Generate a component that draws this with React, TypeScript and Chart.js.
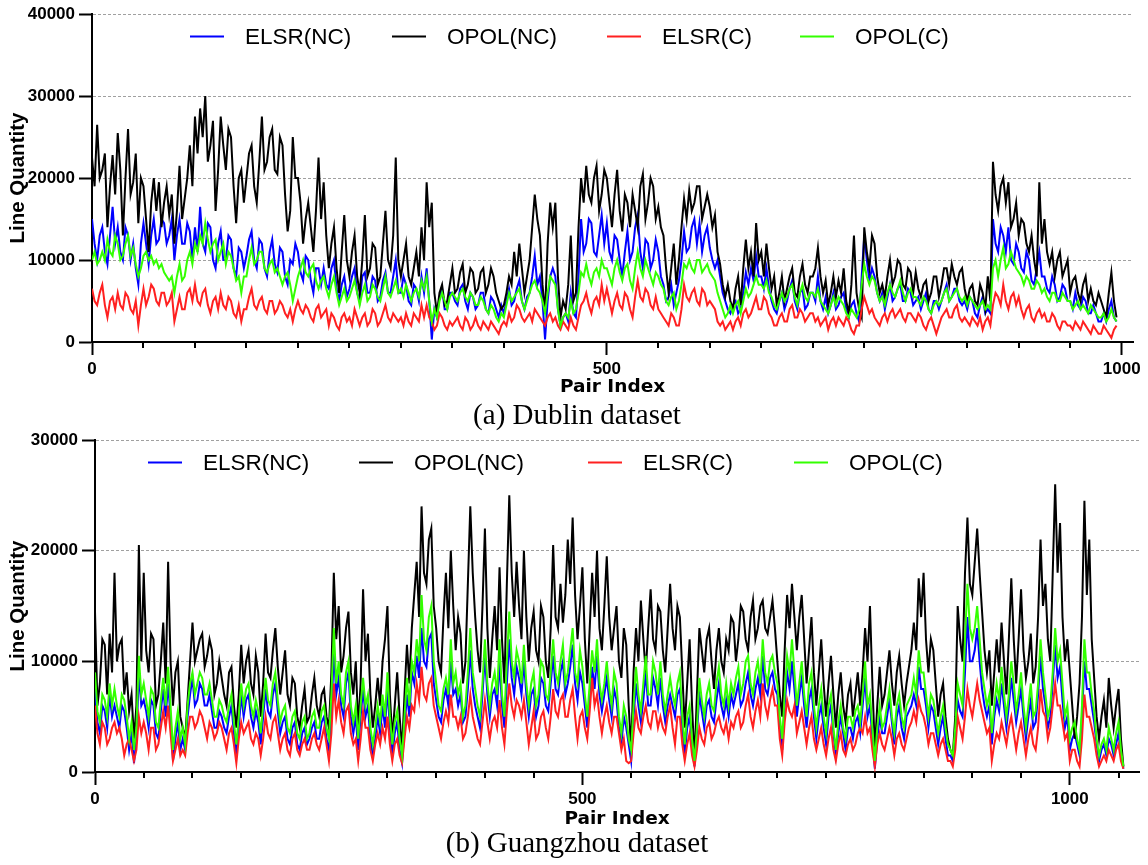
import React, { useEffect, useRef } from 'react';
import { Chart, registerables } from 'chart.js';

Chart.register(...registerables);

// ---------------- data ----------------
const STEP = 2.5; // pair-index spacing of the sampled points
const SERIES_LABELS = ['ELSR(NC)', 'OPOL(NC)', 'ELSR(C)', 'OPOL(C)'];
const SERIES_COLORS = ['#0000ff', '#000000', '#ff2020', '#33ff00'];
const X_TICKS = [0, 500, 1000];
const DUBLIN_Y_TICKS = [0, 10000, 20000, 30000, 40000];
const GZ_Y_TICKS = [0, 10000, 20000, 30000];
const DUBLIN_MINOR_TICKS = [50, 100, 150, 200, 250, 300, 350, 400, 450, 550, 600, 650, 700, 750, 800, 850, 900, 950];
const GZ_MINOR_TICKS = [50, 100, 150, 200, 250, 300, 350, 400, 450, 550, 600, 650, 700, 750, 800, 850, 900, 950, 1050];

// Dublin dataset (thousands of lines), pair index 0..995
const DUBLIN_ELSR_NC = [
  15, 12, 10, 13, 14, 11, 9.5, 13, 16.5, 12, 14, 11, 10, 14, 13, 10, 12, 9, 7, 12,
  14.5, 12, 9.5, 13, 15, 12, 12.5, 15, 14.5, 12, 13, 15, 10, 13, 15, 12, 12, 14.5, 13.5, 10,
  14, 11, 16.5, 12, 11, 14.5, 14, 10, 9, 12, 13.5, 10, 10, 13, 12.5, 9, 8, 11.5, 11, 9,
  10.5, 12.5, 13.5, 10, 9, 12.5, 12, 9, 8, 11, 12.5, 9.5, 8.5, 11.5, 11, 8, 7, 10, 9.5, 12,
  11, 8.5, 7.5, 10.5, 10, 7.5, 6, 9, 9, 7, 9, 7, 6.5, 9, 10, 6.5, 5, 7, 8, 5.5,
  6.5, 8, 9, 6, 5, 8, 8.5, 6, 6, 8, 7.5, 5, 5.5, 7.5, 8.5, 6, 6, 8, 10, 6,
  6, 8, 7, 5, 4.5, 7, 6.5, 5, 8, 6, 9, 5, 0.3, 4, 3, 5.5, 6.5, 4, 4, 6,
  6, 5, 4.5, 6.5, 7, 5, 4, 6, 5.5, 4, 4.5, 6, 6, 4, 3.5, 5.5, 5, 4, 3, 4.5,
  3.5, 5, 6.5, 4.5, 5, 6.5, 7.5, 5, 4, 5.5, 6, 8, 10.5, 7, 8, 5, 0.3, 5, 8, 9,
  8, 4, 2, 3, 3.5, 2.5, 6, 3.5, 3, 8, 15, 11, 12, 15, 14.5, 11, 10.5, 13, 15.5, 12,
  14.5, 11, 10, 13, 12.5, 10, 8, 11, 13.5, 10, 11, 14, 15.5, 11, 9, 12.5, 12, 9, 10, 12.5,
  11, 8, 7, 5, 5.5, 7, 4.5, 6, 7.5, 10, 13.5, 11, 11.5, 14, 15, 12, 14.5, 11, 13, 14,
  11.5, 10, 9, 10, 8, 6, 5, 4, 3.5, 4.5, 5, 3.5, 4, 6, 8.5, 7, 9, 7.5, 10.5, 8,
  8, 6.5, 9, 6.5, 5, 4, 3.5, 5, 6, 4, 5, 6.5, 7.5, 5, 4, 6, 6.5, 4, 4.5, 6,
  6, 5, 8, 5, 4, 5.5, 3.5, 4.5, 6, 4, 4.5, 5.5, 6, 4, 3, 4.5, 5, 3.5, 2.5, 8,
  13, 10, 7.5, 9, 8, 6, 5, 6, 4, 5.5, 7, 5, 5.5, 6.5, 7, 5, 5, 6.5, 6, 4.5,
  5, 5.5, 4, 5, 6, 4, 3.5, 5, 5, 4, 5, 6, 7, 5, 5.5, 6.5, 6.5, 5, 4.5, 5,
  4, 5.5, 5, 3.5, 3, 4.5, 5.5, 3.5, 4, 3.5, 15, 12, 11, 14, 13, 11, 14, 10, 9.5, 12,
  11, 9, 8.5, 11, 10, 7.5, 7, 9, 11, 8, 8, 6.5, 6, 8, 7, 5, 5.5, 7, 6.5, 5,
  5, 4, 6, 4.5, 4, 5.5, 5, 3.5, 3.5, 4.5, 3.5, 2.5, 2.5, 3.5, 2.5, 4, 5, 3, 2.5,
];
const DUBLIN_OPOL_NC = [
  22.5, 19, 26.5, 20, 21, 23, 14, 19, 22.8, 18, 25.5, 21, 13, 20, 26, 18, 19.5, 23, 14.5, 20,
  19, 15, 11, 17, 20, 16, 19.5, 14, 17, 19, 15.5, 18, 12, 16, 21.5, 15, 17.5, 20, 24, 19,
  27.5, 23, 28.5, 25, 30, 22, 24, 27, 16, 21, 27.5, 24, 21, 26, 25, 19, 14.5, 20, 21, 17,
  20, 23, 24, 19, 17, 22, 27.5, 21, 22, 25, 26, 21, 20.5, 25, 24, 18, 13.5, 16, 25, 20,
  20, 17, 12, 15, 17, 14, 11, 16, 22.5, 15, 19.5, 13, 9, 12, 14, 9, 6, 11, 15.5, 10,
  8, 11, 13, 8, 6, 10, 15.5, 8, 9, 12, 11.5, 7, 8, 12, 16, 10, 9, 13, 22.5, 10,
  8, 10, 12, 8, 7, 9, 11, 8, 14, 10, 19.5, 14, 17, 6, 3.5, 6, 7, 4.5, 5, 7,
  9, 6, 6.5, 8.5, 9.5, 6, 7, 9, 8.5, 6, 6.5, 8.5, 9, 6, 7, 9, 8, 6, 5, 4,
  4.5, 6, 8, 7, 11, 8, 12, 9, 6, 8, 10, 14, 18, 15, 13, 7, 3.5, 12, 17, 14,
  17, 8, 3, 5, 4, 7, 13, 5, 6, 14, 20, 17, 21.5, 18, 17, 20, 21.5, 16, 18, 21,
  20, 17, 14, 18, 21, 16, 13.5, 18, 17, 14, 18, 16, 14, 19, 20.5, 15, 17, 20, 19, 15,
  16.5, 14, 13, 9, 6, 9, 12, 7, 10, 14, 17.5, 15, 18.5, 16, 17, 19, 19, 15, 16.5, 18,
  16.5, 14, 15.5, 11, 9.5, 7, 5.5, 7, 5, 4, 6.5, 8, 4.5, 9, 12.5, 9, 11, 8, 14.5, 10,
  11, 8, 12, 9, 6.5, 8, 4.5, 6, 8, 5, 6.5, 8, 9, 6, 5.5, 8, 9.5, 7, 6, 8,
  8, 9, 11.5, 8, 6, 7.5, 4.5, 6, 8, 5.5, 7.5, 6, 9, 5, 3.5, 7, 13, 6, 4, 3,
  14, 11, 9, 13, 12, 8, 6, 7, 5.5, 8, 10, 7, 8, 10, 9.5, 7, 6.5, 9, 8.5, 6,
  8.5, 6.5, 5.5, 7, 7.5, 5, 6, 8, 8, 5.5, 7, 9, 9, 7, 9.5, 8, 7, 8.5, 9, 6.5,
  5, 6.5, 7, 5, 4.5, 7, 6, 4, 8, 5, 22, 18, 16, 19, 20, 17, 19.5, 14, 15, 17,
  13, 15, 14.5, 12, 11, 13, 10, 8, 19.5, 12, 15, 11, 9.5, 11, 8, 10, 11, 8, 9, 10,
  6, 7.5, 8, 6, 5, 7, 8, 5, 6.5, 5, 4.5, 6, 5, 4, 3, 6, 8.5, 5, 3,
];
const DUBLIN_ELSR_C = [
  6.5, 5, 4.5, 6, 7, 4.5, 3, 5, 5.5, 4, 6, 4.5, 4, 6, 5.5, 4, 3.5, 5, 2, 4.5,
  6.5, 4.5, 5.5, 7, 6.5, 5, 4.5, 6, 6, 4.5, 5, 6, 2.5, 4, 5.5, 4, 4, 6, 6.5, 5,
  7, 5, 4.5, 6, 6.5, 4.5, 3.5, 5, 5.5, 4, 6, 4.5, 4, 5.5, 5, 3.5, 3, 4.5, 2.5, 4,
  4, 5.5, 6.5, 4.5, 4, 5, 5.5, 4, 3.5, 5, 5, 3.5, 4, 5, 4.5, 3.5, 3, 4, 2.5, 4,
  5, 4, 3.5, 4.5, 4, 3, 2.5, 4, 4.5, 3, 3.5, 4, 2, 3.5, 3, 2, 1.5, 3, 3.5, 2.5,
  3, 2, 4, 3, 2, 3, 3.5, 2, 2.5, 4, 3.5, 2, 2.5, 3.5, 4.5, 3, 2.5, 3.5, 3, 2.5,
  3, 2, 3.5, 2.5, 2, 3.5, 3, 2.5, 4.5, 3, 4.5, 3, 2.5, 1.5, 2, 3.5, 3, 2, 1.5, 2.5,
  2, 2.5, 3, 2, 1.5, 3, 2.5, 1.5, 2, 3, 2, 1.5, 2.5, 2, 1.5, 2.5, 2, 1.5, 1, 2,
  2.5, 2, 3.5, 2.5, 3, 4.5, 4, 3, 2.5, 3, 3.5, 2.5, 4, 3.5, 3, 2.5, 2, 3, 3.5, 2.5,
  3, 2, 1.5, 2.5, 2, 1.5, 3, 2, 1.5, 3, 4.5, 5, 6, 4.5, 3.5, 5, 5.5, 4.5, 7, 5,
  6.5, 5, 3.5, 5, 6, 4.5, 4, 6, 5.5, 4, 3, 5.5, 7.5, 5.5, 5, 6.5, 6, 4.5, 4, 5.5,
  4, 3.5, 3, 2.5, 2, 3.5, 3, 2, 2, 4, 7, 5.5, 5, 6, 6.5, 5, 4.5, 6.5, 6, 4.5,
  5, 4.5, 4, 2.5, 2, 2.5, 1.5, 2, 2.5, 1.5, 2.5, 3, 2, 3.5, 4, 3, 3.5, 4.5, 5.5, 4,
  4, 5.5, 5, 3.5, 3, 2, 2, 3, 3.5, 2.5, 2.5, 4, 4.5, 3, 3, 4, 3.5, 2.5, 3, 3.5,
  3.5, 2.5, 3, 2, 2.5, 3, 1.5, 2.5, 3, 2, 3, 2.5, 2, 3, 2.5, 1.5, 1, 2, 2, 4,
  5.5, 4.5, 3.5, 4, 3, 2.5, 2, 3, 3.5, 2.5, 3.5, 4, 3, 3.5, 4, 3, 2.5, 3.5, 3.5, 3,
  2.5, 3.5, 3, 2, 1.5, 2.5, 3, 2, 1, 2, 3, 3.5, 4, 3, 3, 4, 4.5, 3, 2.5, 3,
  2.5, 2, 3, 2.5, 2, 3, 1.5, 2.5, 3, 2, 4.5, 6, 5.5, 4.5, 7, 5, 4, 5.5, 6, 4.5,
  5.5, 4, 3, 4, 4.5, 3, 2.5, 3.5, 4, 3, 3.5, 2.5, 2.5, 3.5, 3, 2, 1.5, 2.5, 2.5, 2,
  2, 1.5, 2.5, 2, 1.5, 2.5, 2, 1.5, 1, 2, 1.5, 1, 1, 2, 1.5, 1, 0.5, 1.5, 2,
];
const DUBLIN_OPOL_C = [
  10, 11, 9.5, 10, 11, 10, 12.5, 11, 10.5, 13, 12, 10, 10.5, 12, 13, 10.5, 11.5, 9.5, 8, 9,
  10.5, 11, 10, 10.5, 9.5, 10, 9, 9.5, 8.5, 8, 7.5, 8, 6, 8, 9.5, 7.5, 8, 10, 11, 9.5,
  12, 11, 13, 12, 14.5, 12.5, 11, 12, 12.5, 10, 11, 12, 9.5, 11, 10.5, 9, 7.5, 8, 6, 8,
  8, 10, 11.5, 9.5, 10, 11, 11, 9, 8.5, 9.5, 10, 8.5, 9, 8, 7, 8, 8.5, 7, 5, 6.5,
  8, 9, 10, 8.5, 8, 9, 9.5, 7.5, 6.5, 7.5, 8, 6.5, 5.5, 7, 8, 6, 4.5, 5.5, 6.5, 5,
  5.5, 6.5, 7.5, 6, 4.5, 6, 7, 5, 5.5, 7, 6.5, 5.5, 5, 6.5, 8, 6, 5.5, 6.5, 7.5, 6,
  6.5, 5.5, 7, 6, 5, 6, 6.5, 5.5, 7.5, 6.5, 8, 5, 2.5, 4, 3, 5, 6, 5, 4, 5.5,
  6, 5.5, 5, 6, 6.5, 5.5, 5, 6, 5.5, 4.5, 4.5, 5.5, 5, 4, 3.5, 4.5, 4, 3, 2.5, 3.5,
  3, 4.5, 6, 5, 5.5, 6, 6.5, 5, 4, 5, 6, 7, 7.5, 6.5, 6, 5, 3.5, 6, 8, 7.5,
  7, 4, 2, 3, 3.5, 3, 5, 3.5, 4, 6, 8.5, 8, 9.5, 8, 7, 8.5, 9, 8, 10, 9,
  9, 8, 7, 9, 10, 8.5, 7.5, 9, 9.5, 7.5, 6.5, 9, 11, 9, 8, 10, 9, 8, 7, 8.5,
  8, 7, 6.5, 5, 4.5, 5.5, 6, 4, 5, 7, 9.5, 9, 10, 9, 8.5, 10, 10, 8.5, 9, 9.5,
  8.5, 8, 7.5, 6, 5, 4, 3, 3.5, 4.5, 3.5, 4.5, 5, 3.5, 5, 6.5, 5.5, 6, 7, 8, 7,
  7, 6.5, 7.5, 6, 5.5, 4.5, 4, 5, 6, 5, 5.5, 6.5, 7, 5.5, 4.5, 6, 7, 5.5, 5, 6,
  6, 5.5, 6.5, 5, 4.5, 4, 3.5, 4.5, 5.5, 4.5, 5.5, 5, 4.5, 3.5, 3, 4, 3.5, 3, 4, 7,
  9.5, 8, 7, 8, 7.5, 6, 5, 5.5, 4.5, 6, 7, 6, 5.5, 6.5, 7.5, 6, 5, 6, 6.5, 5.5,
  5.5, 5, 4.5, 5.5, 5, 4, 3.5, 4.5, 5, 4.5, 5, 6, 6.5, 5, 5.5, 6, 6.5, 5.5, 5, 5.5,
  4.5, 5.5, 5, 4.5, 4, 4.5, 5, 4, 4.5, 4, 9, 10, 8, 10, 11.5, 9, 9.5, 11, 10, 9,
  8.5, 8, 7, 8, 7.5, 6.5, 6.5, 7.5, 7, 6, 6.5, 5.5, 5, 6, 6, 5, 5, 6, 5.5, 5,
  5, 4, 4.5, 5, 4, 4.5, 4, 3.5, 4.5, 4, 3.5, 3, 3, 3.5, 2.5, 3, 4, 3, 2.5,
];

// Guangzhou dataset (thousands of lines), pair index 0..1055
const GZ_ELSR_NC = [
  7.5, 4.5, 3.5, 6, 5.5, 4, 7, 5, 6, 5, 4, 6, 5.5, 4, 2, 3.5, 0.8, 3, 9, 6,
  6.5, 5.5, 4, 6.5, 6, 3.5, 3, 5.5, 7.5, 5, 8, 5, 1, 3, 4.5, 2, 3, 2, 5, 7,
  8.5, 6, 6.5, 8, 7.5, 6, 6, 7, 5.5, 4, 4, 5.5, 5, 4, 3.5, 5, 6, 3.5, 1.5, 4,
  7, 5, 6.5, 7, 5, 4, 5.5, 4.5, 2.5, 5, 7.5, 5.5, 5, 7, 8, 5.5, 3.5, 4.5, 5, 3,
  2.5, 4, 4.5, 2.5, 2, 3.5, 4, 2.5, 3, 4, 4.5, 3, 3, 4.5, 5, 3, 2, 5, 11, 7,
  8.5, 6, 5, 8, 9, 5, 3.5, 5, 2, 5, 7.5, 5, 6, 3, 1.5, 3, 5, 3.5, 6, 4,
  7.5, 4, 1.5, 3.5, 4.5, 2, 0.8, 4, 7, 5, 9, 8, 10.5, 8.5, 13, 10, 9.5, 12, 12.5, 8,
  6.5, 5, 4.5, 6.5, 7.5, 6, 10, 7, 7.5, 6, 7, 4.5, 5, 7.5, 11, 7.5, 6, 5, 4, 7,
  10.5, 7, 5, 7, 7.5, 6, 10, 6, 4, 8, 12, 8.5, 7, 9.5, 8.5, 7, 10, 7, 5, 7,
  7.5, 5, 6, 8.5, 8, 6, 5.5, 8, 10.5, 7.5, 7, 9, 10, 7, 8, 9.5, 11.5, 8, 6.5, 9,
  8, 6, 4, 6.5, 9.5, 7.5, 10.5, 7, 5.5, 7, 8.5, 6.5, 5, 7.5, 6.5, 4, 2.5, 5, 4, 2.5,
  1, 5, 8, 6, 4.5, 6.5, 9, 6, 6, 8.5, 7.5, 6, 8.5, 6, 4.5, 6, 7, 6, 5, 7,
  7.5, 4, 1.5, 4, 5, 2.5, 0.5, 3.5, 7, 5.5, 4, 6, 6.5, 5, 4.5, 6.5, 8, 6, 5, 6.5,
  5, 7, 6, 7, 8, 6, 6.5, 8, 9, 7, 6, 7.5, 8.5, 7, 10.5, 7.5, 7, 8.5, 9, 7.5,
  7, 4, 2, 6, 9, 7.5, 10, 7.5, 5, 7, 8.5, 6, 4, 6.5, 7.5, 5, 3, 5, 6, 4,
  2.5, 5, 6, 3.5, 1.5, 3.5, 5, 3.5, 2, 4, 4, 3, 4.5, 5, 3.5, 6, 8.5, 5, 6, 3,
  0.3, 3, 5, 3.5, 3.5, 5, 6.5, 4.5, 2.5, 5, 6, 4, 3, 5, 5.5, 6, 7, 6, 9.5, 7.5,
  7.5, 6, 4, 6, 5.5, 4, 2.5, 4, 5, 3, 1.5, 1.5, 1, 3, 6.5, 5.5, 5, 9, 14, 10,
  10, 11, 13, 10, 7.5, 6, 5, 6, 2.5, 5, 6.5, 5.5, 8, 6, 4, 6, 8.5, 6.5, 4.5, 6,
  7.5, 5, 3, 5, 6.5, 4, 4.5, 7, 10.5, 7.5, 6, 4, 5, 8, 11.5, 8.5, 9.5, 6.5, 4, 5,
  2, 3, 3.5, 2.5, 1.5, 5, 10, 7.5, 7.5, 6, 4.5, 2.5, 1, 2, 2.5, 1.5, 3, 2.5, 1.5, 2.5,
  3.5, 1.5, 0.3,
];
const GZ_OPOL_NC = [
  14.5, 6, 8, 12, 11.5, 7, 12.5, 9, 18, 10, 11.5, 12, 7, 9, 5.5, 7, 3, 6, 20.5, 10,
  18, 11, 9, 12.5, 12, 6, 7, 10, 13.5, 8, 19, 10, 6, 9, 10, 5, 4, 3, 6.5, 10,
  13.5, 10, 11, 12, 12.5, 9.5, 10.5, 12, 11, 7, 8, 10, 8.5, 7, 6, 9, 9.5, 6, 4, 7,
  11.5, 8, 10, 11, 8, 7, 10.5, 9, 5, 8, 12.5, 9, 8.5, 11, 13, 9.5, 7, 9, 11, 7,
  6, 8.5, 8, 5, 4, 6, 7.5, 4.5, 5, 7, 8.5, 6, 5, 7, 7.5, 5, 4, 9, 18, 12,
  15, 9, 10.5, 13, 14.5, 9, 7, 10, 4, 8, 16.5, 10, 12.5, 7, 4, 6, 8.5, 6, 10, 12,
  15, 7, 3, 6, 9, 5, 2, 7, 11.5, 8, 13, 16, 19, 14, 24, 18, 17, 21, 22, 15,
  13, 10, 9, 14, 18, 13, 20, 15, 11, 14, 12.5, 8, 10, 17, 24, 18, 14, 11, 9, 15,
  22, 13, 8.5, 12, 15, 11, 18.5, 12, 8, 17, 25, 18, 14, 19, 15, 12, 20, 14, 10, 13,
  14.5, 11, 10, 15, 14, 10, 8.5, 13, 20.5, 14, 13, 17, 13.5, 16, 21, 17, 23, 16, 12, 15,
  18.5, 12, 8, 13, 18, 14, 20, 13, 11, 15, 19.5, 14, 11, 13, 15, 10, 8.5, 13, 11.5, 6,
  2, 9, 13, 10, 15.5, 12, 9, 13, 16.5, 12, 11, 15, 14.5, 11, 9, 13, 17, 13, 11, 15,
  14, 9, 4, 8, 12, 6, 1, 7, 13, 11, 9, 12, 13, 10, 7.5, 11, 13, 10, 9, 12,
  11, 14, 13.5, 10, 12, 15, 14.5, 12, 11, 14, 15.5, 12, 13, 15, 15.5, 13, 12.5, 14, 15.5, 13,
  10, 7, 5, 11, 16, 13, 17, 14, 11, 14, 16, 12, 8, 11, 14, 9, 6, 9, 12, 8,
  5, 8, 10.5, 7, 4, 7, 9, 6, 4.5, 7, 8, 5, 7, 9, 6, 9, 13, 10, 15, 8,
  2, 6, 9.5, 6, 7, 9, 11, 8, 6, 9, 10.5, 8, 6, 8, 9.5, 11, 13.5, 11, 17.5, 14,
  18, 12, 9, 12, 11, 8, 5, 7, 8, 5, 3, 2, 1.5, 5, 15, 12, 10, 18, 23, 17,
  16, 19, 22, 18, 14.5, 11, 9, 11, 6, 9, 12, 9, 13.5, 10, 7, 12, 17.5, 12, 8, 12,
  16.5, 11, 8.5, 10, 12.5, 8, 9.5, 14, 21, 15, 17, 12, 10, 18, 26, 18, 22.5, 14, 10, 12,
  9, 6, 3, 5, 8, 14, 24.5, 16, 21, 12, 8.5, 5, 3, 5, 6.5, 4, 8.5, 6, 4, 6,
  7.5, 3, 0.5,
];
const GZ_ELSR_C = [
  6, 3.5, 2.5, 4.5, 4, 2.5, 3, 4, 4.5, 3.5, 4, 3, 1.5, 2.5, 3, 2, 1, 2, 5, 3.5,
  4.5, 3.5, 2, 4, 4, 2, 2.5, 4, 5.5, 4, 6, 3.5, 1, 2, 3, 1.5, 2, 1.5, 3.5, 5,
  5, 4, 4.5, 5.5, 5, 4, 3, 4.5, 4, 3, 3.5, 4.5, 4, 3, 2, 3.5, 4, 2.5, 0.8, 3,
  4.5, 3.5, 4, 4.5, 3, 2.5, 3.5, 3, 1.5, 3, 5, 3.5, 3, 4.5, 5, 3.5, 2, 3, 3.5, 2,
  1.5, 3, 3.5, 2, 1.5, 2.5, 3, 2, 2, 3, 3.5, 2.5, 2, 3, 4, 2.5, 1, 3.5, 8, 5,
  6.5, 4.5, 3.5, 5.5, 6, 3.5, 2.5, 3, 1, 3, 5.5, 4, 4, 2, 1, 2.5, 3.5, 2.5, 4, 3,
  5, 2.5, 1, 2.5, 3, 1.5, 0.8, 3, 5, 4, 6, 5.5, 8, 6.5, 9.5, 7, 6.5, 8, 8.5, 6,
  5, 4, 3, 4.5, 5.5, 4.5, 7, 5, 5, 4, 5, 3, 3.5, 5, 7, 5, 4, 3, 2.5, 4.5,
  6.5, 4.5, 3, 4.5, 5, 4, 6.5, 4, 2.5, 5.5, 8, 6, 5, 6.5, 6, 5, 6.5, 4.5, 2.5, 4,
  5.5, 3, 3.5, 5, 5.5, 4, 3, 5, 7.5, 5.5, 5, 6.5, 7, 5, 5, 6.5, 7.5, 5, 3, 5,
  5.5, 4, 3, 5.5, 8.5, 6, 7, 5, 3.5, 5, 6, 4.5, 3.5, 5, 5, 3.5, 2, 3, 1, 0.8,
  1, 3.5, 5.5, 4, 3.5, 5, 6, 4.5, 4, 5.5, 5.5, 4, 5, 4, 3.5, 5, 6, 4, 2.5, 5,
  5, 2.5, 1, 2.5, 3.5, 1.5, 0.5, 2, 4, 3, 2.5, 4, 4.5, 3, 3.5, 4.5, 5, 4, 3.5, 4.5,
  3, 4.5, 4, 5, 5.5, 4, 4.5, 6, 7, 5, 4, 5.5, 6.5, 5, 8, 6, 5, 6.5, 7.5, 6,
  6, 3, 1.5, 4.5, 6.5, 5.5, 5, 6, 3.5, 4.5, 5.5, 4, 2.5, 4, 5, 3, 2, 3, 4, 2.5,
  1.5, 3, 4, 2, 1, 2.5, 3.5, 2, 1.5, 2.5, 3, 2, 2.5, 3.5, 4, 3.5, 5, 3.5, 4, 2,
  0.5, 2.5, 3.5, 2.5, 2, 3, 4, 3, 1.5, 3, 3.5, 2.5, 2, 3, 4, 4.5, 5.5, 4.5, 6.5, 5.5,
  5, 4, 2.5, 3.5, 3.5, 2.5, 1.5, 2.5, 3, 2, 1, 1, 0.5, 2, 5, 4, 3, 5, 7.5, 6,
  5, 6.5, 8, 6.5, 5.5, 4.5, 3.5, 4, 1, 2.5, 3.5, 3, 4.5, 3.5, 2.5, 4, 5, 3.5, 2, 3.5,
  4.5, 3, 1.5, 3, 4, 2.5, 2, 4, 7.5, 5.5, 5, 3, 4, 6, 8, 6, 6, 4.5, 3, 3.5,
  1, 2, 2, 1, 0.5, 3, 7, 5, 5, 4, 3, 1.5, 0.5, 1, 1.5, 1, 2, 1.5, 1, 2,
  2.5, 1, 0.3,
];
const GZ_OPOL_C = [
  9, 5.5, 4.5, 7, 6.5, 5, 8, 6, 7.5, 6, 5, 7, 6.5, 5, 3, 4.5, 2, 4, 10.5, 7,
  8, 6.5, 5, 7.5, 7, 4.5, 4, 6.5, 8.5, 6, 9.5, 6, 2, 4, 5.5, 3, 4, 2.5, 6, 8,
  9, 7, 8, 9, 8.5, 7, 7, 8, 6.5, 5, 5, 6.5, 6, 5, 4.5, 6, 7, 4.5, 2.5, 5,
  8, 6, 7.5, 8, 6, 5, 6.5, 5.5, 3.5, 6, 8.5, 6.5, 6, 8, 9, 6.5, 4.5, 5.5, 6, 4,
  3.5, 5, 5.5, 3.5, 3, 4.5, 5, 3, 3.5, 5, 5.5, 4, 4, 5.5, 6, 4, 3, 7, 13, 8,
  10, 7, 6, 9, 10, 6, 4.5, 6, 3, 6, 8.5, 6, 7, 4, 2.5, 4, 6, 4.5, 7, 5,
  9, 5, 2.5, 4.5, 5.5, 3, 1.5, 5, 8.5, 6, 10, 9, 12, 10, 16, 12, 11, 14, 15, 10,
  8, 6, 5.5, 7.5, 8.5, 7, 12, 8, 9, 7, 8, 5, 6, 9, 13, 9, 7.5, 6, 5, 8,
  12, 8, 6, 8, 9, 7, 12, 7, 5, 10, 14.5, 10, 8.5, 11, 10, 8, 11.5, 8, 6, 8,
  9, 6, 7, 10, 9.5, 7, 6.5, 9, 12, 9, 8, 10, 11.5, 8, 9, 11, 13, 9, 8, 11,
  9.5, 7, 5, 8, 11, 9, 12, 8, 6.5, 8, 10, 7.5, 6, 9, 8, 5, 3.5, 6, 5, 3,
  2, 6, 9.5, 7, 5.5, 8, 10.5, 7, 7, 10, 9, 7, 10, 7, 5.5, 7, 8.5, 7, 6, 8,
  9, 5, 2.5, 5, 6, 3, 1, 4, 8.5, 6.5, 5, 7, 8, 6, 5.5, 8, 9.5, 7, 6, 8,
  6, 8, 7, 8.5, 9.5, 7, 8, 10, 10.5, 8, 7, 9, 10, 8, 12, 9, 8, 10, 10.5, 9,
  8, 5, 3, 7, 10.5, 9, 12, 9, 6, 8, 10, 7, 5, 8, 9, 6, 4, 6, 7.5, 5,
  3.5, 6, 7, 4, 2, 4.5, 6, 4, 3, 5, 5, 4, 5.5, 6, 4.5, 7, 10, 6, 7, 4,
  1, 4, 6, 4, 4.5, 6, 7.5, 5, 3.5, 6, 7, 5, 4, 6, 6.5, 7, 8.5, 7, 11, 9,
  9, 7, 5, 7, 6.5, 5, 3.5, 5, 6, 4, 2.5, 2, 1.5, 4, 8, 7, 6, 12, 17, 13,
  12, 13, 15, 12, 9, 7.5, 6, 7, 3.5, 6, 8, 6.5, 9.5, 7, 5, 7, 10, 8, 5.5, 7,
  9, 6, 4, 6, 8, 5, 5.5, 8, 12, 9, 7, 5, 6, 9, 13, 10, 11, 8, 5, 6,
  3, 4, 4.5, 3, 2, 6, 12, 9, 9, 7, 5.5, 3, 1.5, 2.5, 3, 2, 4, 3, 2, 3.5,
  4.5, 2, 0.5,
];

// ---------------- helpers ----------------
const TICK_FONT = { family: '"Liberation Sans", Arial, sans-serif', size: 17, weight: 'bold' as const };

const toPoints = (vals: number[]) => vals.map((v, i) => ({ x: i * STEP, y: v * 1000 }));

const inlineLegend = {
  id: 'inlineLegend',
  afterDraw(chart: any, _args: any, opts: any) {
    const { ctx } = chart;
    ctx.save();
    chart.data.datasets.forEach((ds: any, i: number) => {
      const x = opts.xs[i];
      const y = opts.y;
      ctx.strokeStyle = ds.borderColor;
      ctx.lineWidth = 2;
      ctx.beginPath();
      ctx.moveTo(x, y);
      ctx.lineTo(x + 34, y);
      ctx.stroke();
      ctx.fillStyle = '#000';
      ctx.font = '22.5px "Liberation Sans", Arial, sans-serif';
      ctx.textBaseline = 'middle';
      ctx.textAlign = 'left';
      ctx.fillText(ds.label, x + 55, y + 1);
    });
    ctx.restore();
  },
};

const minorTicks = {
  id: 'minorTicks',
  afterDraw(chart: any, _args: any, opts: any) {
    const { ctx } = chart;
    const scale = chart.scales.x;
    const y0 = chart.chartArea.bottom;
    ctx.save();
    ctx.strokeStyle = '#000';
    ctx.lineWidth = 2;
    (opts.values || []).forEach((v: number) => {
      const x = Math.round(scale.getPixelForValue(v));
      ctx.beginPath();
      ctx.moveTo(x, y0);
      ctx.lineTo(x, y0 + 6);
      ctx.stroke();
    });
    ctx.restore();
  },
};

type PanelProps = {
  top: number;
  height: number;
  series: number[][];
  xMax: number;
  yMax: number;
  yTicks: number[];
  minor: number[];
  legendXs: number[];
  legendY: number;
  padTop: number;
  padRight: number;
  yWidth: number;
  xHeight: number;
};

function Panel(p: PanelProps) {
  const ref = useRef<HTMLCanvasElement | null>(null);
  useEffect(() => {
    if (!ref.current) return;
    const orders = [4, 3, 2, 1];
    const chart = new Chart(ref.current, {
      type: 'line',
      data: {
        datasets: p.series.map((vals, i) => ({
          label: SERIES_LABELS[i],
          data: toPoints(vals),
          borderColor: SERIES_COLORS[i],
          backgroundColor: SERIES_COLORS[i],
          borderWidth: 2,
          pointRadius: 0,
          tension: 0,
          fill: false,
          order: orders[i],
        })),
      },
      options: {
        responsive: false,
        maintainAspectRatio: false,
        animation: false,
        parsing: false,
        layout: { padding: { top: p.padTop, right: p.padRight, left: 0, bottom: 0 } },
        plugins: {
          legend: { display: false },
          tooltip: { enabled: false },
          inlineLegend: { xs: p.legendXs, y: p.legendY },
          minorTicks: { values: p.minor },
        } as any,
        scales: {
          x: {
            type: 'linear',
            min: 0,
            max: p.xMax,
            afterBuildTicks: (s: any) => {
              s.ticks = X_TICKS.map((v) => ({ value: v }));
            },
            afterFit: (s: any) => {
              s.height = p.xHeight;
            },
            grid: { drawOnChartArea: false, drawTicks: true, tickLength: 13, tickWidth: 2, tickColor: '#000' },
            border: { color: '#000', width: 2 },
            ticks: {
              color: '#000',
              font: TICK_FONT,
              padding: 4,
              maxRotation: 0,
              autoSkip: false,
              callback: (v: any) => String(v),
            },
            title: {
              display: true,
              text: 'Pair Index',
              color: '#000',
              font: { family: '"DejaVu Sans", sans-serif', size: 18.5, weight: 'bold' },
              padding: { top: 0, bottom: 2 },
            },
          },
          y: {
            type: 'linear',
            min: 0,
            max: p.yMax,
            afterBuildTicks: (s: any) => {
              s.ticks = p.yTicks.map((v) => ({ value: v }));
            },
            afterFit: (s: any) => {
              s.width = p.yWidth;
            },
            grid: {
              color: '#a0a0a0',
              lineWidth: 1,
              drawTicks: true,
              tickLength: 13,
              tickWidth: 2,
              tickColor: '#000',
              tickBorderDash: [],
            },
            border: { color: '#000', width: 2, dash: [3, 2] },
            ticks: {
              color: '#000',
              font: TICK_FONT,
              padding: 4,
              autoSkip: false,
              callback: (v: any) => String(v),
            },
            title: {
              display: true,
              text: 'Line Quantity',
              color: '#000',
              font: { family: '"Liberation Sans", Arial, sans-serif', size: 20.5, weight: 'bold' },
              padding: { top: 6, bottom: 0 },
            },
          },
        },
      } as any,
      plugins: [inlineLegend, minorTicks],
    });
    return () => chart.destroy();
  }, []);
  return (
    <canvas
      ref={ref}
      width={1148}
      height={p.height}
      style={{ position: 'absolute', left: 0, top: p.top, width: 1148, height: p.height, display: 'block' }}
    />
  );
}

const captionStyle: React.CSSProperties = {
  position: 'absolute',
  left: 0,
  width: 1154,
  textAlign: 'center',
  fontFamily: '"Liberation Serif", "Times New Roman", serif',
  fontSize: 29,
  lineHeight: '34px',
  color: '#000',
  whiteSpace: 'nowrap',
};

export default function App() {
  return (
    <div style={{ position: 'fixed', left: 0, top: 0, width: 1148, height: 865, background: '#fff', overflow: 'hidden' }}>
      <Panel
        top={0}
        height={400}
        series={[DUBLIN_ELSR_NC, DUBLIN_OPOL_NC, DUBLIN_ELSR_C, DUBLIN_OPOL_C]}
        xMax={1011}
        yMax={40000}
        yTicks={DUBLIN_Y_TICKS}
        minor={DUBLIN_MINOR_TICKS}
        legendXs={[190, 392, 607, 800]}
        legendY={36.5}
        padTop={12}
        padRight={15}
        yWidth={92}
        xHeight={58}
      />
      <div style={{ ...captionStyle, top: 397 }}>(a) Dublin dataset</div>
      <Panel
        top={420}
        height={412}
        series={[GZ_ELSR_NC, GZ_OPOL_NC, GZ_ELSR_C, GZ_OPOL_C]}
        xMax={1071}
        yMax={30000}
        yTicks={GZ_Y_TICKS}
        minor={GZ_MINOR_TICKS}
        legendXs={[148, 359, 588, 794]}
        legendY={42.5}
        padTop={20}
        padRight={9}
        yWidth={95}
        xHeight={60}
      />
      <div style={{ ...captionStyle, top: 825 }}>(b) Guangzhou dataset</div>
    </div>
  );
}
